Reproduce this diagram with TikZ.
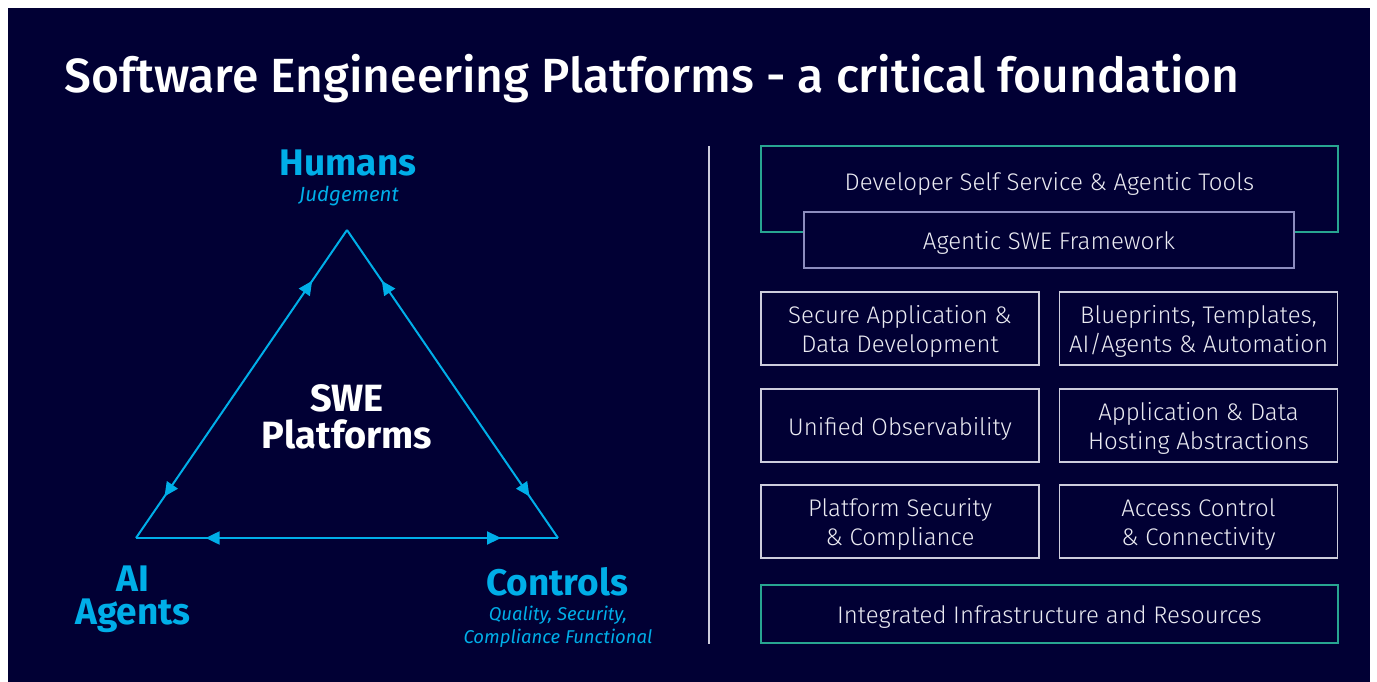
\documentclass[tikz,border=0pt]{standalone}
\usepackage{fontspec}
\setmainfont{Fira Sans}
\newfontfamily\lightfont{Fira Sans Light}
\newfontfamily\mediumfont{Fira Sans Medium}
\usetikzlibrary{arrows.meta,decorations.markings}

\definecolor{navy}{RGB}{1,0,52}
\definecolor{sky}{RGB}{0,174,232}
\definecolor{tealline}{RGB}{40,165,145}
\definecolor{lilac}{RGB}{140,140,190}
\definecolor{paleline}{RGB}{205,205,220}
\definecolor{softwhite}{RGB}{235,235,242}

\newcommand\boxstrut{\rule{0pt}{24pt}}

\begin{document}
\begin{tikzpicture}[
  x=1pt,
  y=-1pt,
  side/.style={
    draw=sky,
    line width=2pt,
    postaction={decorate},
    decoration={
      markings,
      mark=at position 0.165 with {\arrowreversed[sky]{Triangle[length=14pt,width=13pt]}},
      mark=at position 0.865 with {\arrow[sky]{Triangle[length=14pt,width=13pt]}}
    }
  },
  corner/.style={
    text=sky,
    align=center,
    font=\bfseries\fontsize{37}{33}\selectfont
  },
  note/.style={
    text=sky,
    align=center,
    font=\itshape\fontsize{18.5}{23}\selectfont
  },
  block/.style={
    draw=paleline,
    line width=1.3pt,
    fill=navy,
    text=softwhite,
    align=center,
    font=\lightfont\fontsize{24}{29}\selectfont,
    minimum width=278pt,
    minimum height=73pt
  },
  band/.style={
    block,
    draw=tealline,
    minimum width=577pt
  },
]
\fill[white] (0,0) rectangle (1377,682);
\fill[navy] (8,8) rectangle (1370,682);
\useasboundingbox (0,0) rectangle (1377,682);

\node[anchor=base west, text=white, font=\mediumfont\fontsize{48}{55}\selectfont]
  (title) at (61,93) {Software Engineering Platforms - a critical foundation};

% triangle
\coordinate (hum) at (347,230);
\coordinate (agt) at (136,538);
\coordinate (ctl) at (558,538);
\draw[side] (hum) -- (agt);
\draw[side] (hum) -- (ctl);
\draw[side] (agt) -- (ctl);

\node[corner] (humans) at (348,163) {Humans};
\node[note, font=\itshape\fontsize{20.5}{23}\selectfont] (judge) at (349,196) {Judgement};
\node[align=center, text=white, font=\bfseries\fontsize{38}{37}\selectfont]
  (swe) at (347,417) {SWE\\Platforms};
\node[corner] (agents) at (133,599) {AI\\Agents};
\node[corner] (controls) at (557,582) {Controls};
\node[note] (quality) at (558,627) {Quality, Security,\\Compliance Functional};

\draw[paleline, line width=1.6pt] (709,146) -- (709,644);

% platform stack
\node[band, minimum height=86pt, label={[text=softwhite, font=\lightfont\fontsize{24}{29}\selectfont, yshift=5pt]center:Developer Self Service \& Agentic Tools}]
  (selfserv) at (1049.5,189) {};
\node[block, draw=lilac, minimum width=490pt, minimum height=56pt]
  (framework) at (1049,240) {\boxstrut Agentic SWE Framework};

\node[block] (secure) at (900,328.5) {\boxstrut Secure Application \&\\Data Development};
\node[block] (blue) at (1198.5,328.5) {\boxstrut Blueprints, Templates,\\AI/Agents \& Automation};
\node[block] (observe) at (900,425.5) {\boxstrut Unified Observability};
\node[block] (hosting) at (1198.5,425.5) {\boxstrut Application \& Data\\Hosting Abstractions};
\node[block] (platsec) at (900,521.5) {\boxstrut Platform Security\\\& Compliance};
\node[block] (access) at (1198.5,521.5) {\boxstrut Access Control\\\& Connectivity};

\node[band, minimum height=58pt] (infra) at (1049.5,614) {\boxstrut Integrated Infrastructure and Resources};
\end{tikzpicture}
\end{document}
